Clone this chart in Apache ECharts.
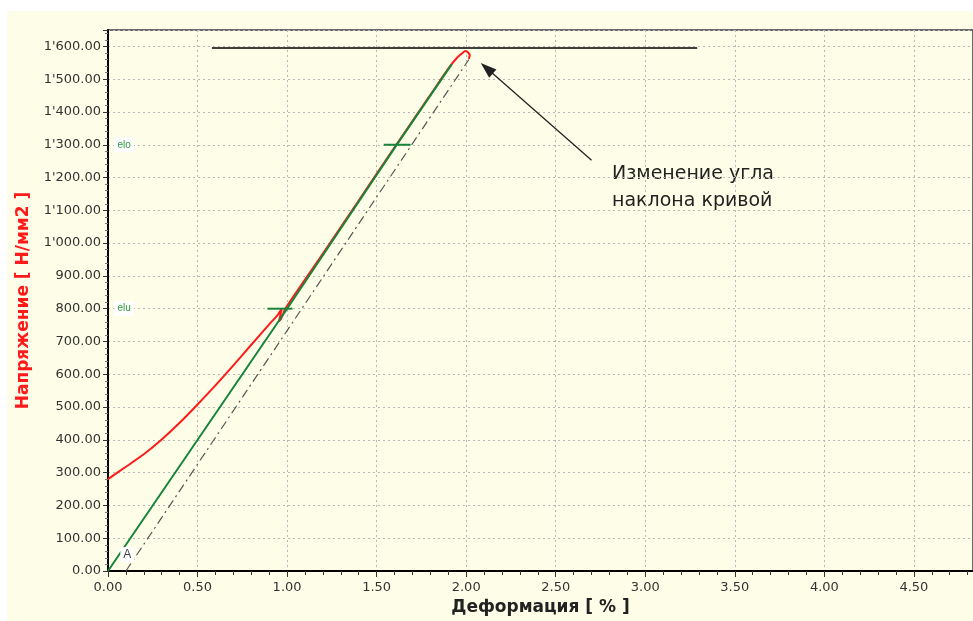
<!DOCTYPE html>
<html>
<head>
<meta charset="utf-8">
<script src="https://cdn.jsdelivr.net/npm/echarts@6/dist/echarts.min.js"></script>
<style>
  html, body { margin:0; padding:0; background:#fff; }
  #chart { position:absolute; left:7px; top:11px; width:966px; height:610px; background:#fefee8; }
</style>
</head>
<body>
<div id="chart"></div>
<script>
// кривая нагрузки (красная)
var redX = [0, 0.1, 0.2, 0.3, 0.4, 0.5, 0.6, 0.7, 0.8, 0.9, 0.95, 0.97, 0.955, 0.965, 0.99, 1.2, 1.4, 1.6, 1.8, 1.9, 1.95, 1.98, 1.995, 2.01, 2.02, 2.015];
var redY = [280, 318, 356, 401, 452, 508, 566, 627, 690, 752, 783, 800, 762, 768, 800, 968, 1130, 1292, 1452, 1532, 1566, 1580, 1586, 1582, 1572, 1562];
// модуль упругости (зелёная)
var greenX = [0, 1.0, 1.61, 1.92];
var greenY = [0, 800, 1298, 1546];
// разгрузка (штрих-пунктир)
var dashX = [0.1, 2.015];
var dashY = [0, 1560];
// отметки elu / elo
var eluX = [0.89, 1.03], eluY = [800, 800];
var eloX = [1.54, 1.69], eloY = [1300, 1300];
// максимум
var maxX = [0.58, 3.29], maxY = [1595, 1595];
// стрелка
var arrowFrom = [2.70, 1253], arrowTo = [2.115, 1533];
var labels = [
  { name: 'elo', value: [0.09, 1300], color: '#2e9a3e', w: 20 },
  { name: 'elu', value: [0.09, 800], color: '#2e9a3e', w: 20 },
  { name: 'A', value: [0.108, 50], color: '#444', w: 14 }
];

function pairs(xs, ys) {
  var r = [];
  for (var i = 0; i < xs.length; i++) r.push([xs[i], ys[i]]);
  return r;
}
function fmtY(v) {
  var s = v.toFixed(2);
  var p = s.split('.');
  var i = p[0];
  if (i.length > 3) i = i.slice(0, i.length - 3) + "'" + i.slice(i.length - 3);
  return i + '.' + p[1];
}

var myChart = echarts.init(document.getElementById('chart'));
var font = 'DejaVu Sans, Liberation Sans, Arial, sans-serif';
var option = {
  animation: false,
  textStyle: { fontFamily: font },
  grid: {
    left: 98, top: 19, right: 0, bottom: 49,
    show: true, borderColor: '#6a6a6a', borderWidth: 2, backgroundColor: 'transparent'
  },
  xAxis: {
    type: 'value', min: 0, max: 4.83, interval: 0.5,
    name: 'Деформация [ % ]', nameLocation: 'middle', nameGap: 28,
    nameTextStyle: { fontSize: 17, fontWeight: 'bold', color: '#222', fontFamily: font },
    axisLine: { lineStyle: { color: '#000', width: 2 } },
    axisTick: { show: true, length: 6, lineStyle: { color: '#333' } },
    minorTick: { show: true, splitNumber: 5, length: 4, lineStyle: { color: '#333' } },
    axisLabel: { color: '#333', fontSize: 13, margin: 10, showMaxLabel: false, fontFamily: font,
      formatter: function (v) { return v.toFixed(2); } },
    splitLine: { show: true, lineStyle: { color: '#b8b8b8', type: [2, 3], width: 1 } }
  },
  yAxis: {
    type: 'value', min: 0, max: 1650, interval: 100,
    name: 'Напряжение [ Н/мм2 ]', nameLocation: 'middle', nameGap: 76,
    nameTextStyle: { fontSize: 17, fontWeight: 'bold', color: '#ff1a1a', fontFamily: font },
    axisLine: { lineStyle: { color: '#000', width: 2 } },
    axisTick: { show: true, length: 5, lineStyle: { color: '#333' } },
    minorTick: { show: true, splitNumber: 5, length: 3, lineStyle: { color: '#777' } },
    axisLabel: { color: '#333', fontSize: 13, margin: 7, showMaxLabel: false, formatter: fmtY, fontFamily: font },
    splitLine: { show: true, lineStyle: { color: '#b8b8b8', type: [2, 3], width: 1 } }
  },
  series: [
    {
      type: 'line', data: pairs(maxX, maxY), symbol: 'none',
      lineStyle: { color: '#000', width: 1.5 }
    },
    {
      type: 'line', data: pairs(dashX, dashY), symbol: 'none',
      lineStyle: { color: '#555', width: 1.2, type: [9, 4, 2, 4] }
    },
    {
      type: 'line', data: pairs(redX, redY), symbol: 'none', smooth: 0.2,
      lineStyle: { color: '#ff1a1a', width: 2 }
    },
    {
      type: 'line', data: pairs(greenX, greenY), symbol: 'none',
      lineStyle: { color: '#17843a', width: 2 }
    },
    {
      type: 'line', data: pairs(eluX, eluY), symbol: 'none',
      lineStyle: { color: '#17843a', width: 2 }
    },
    {
      type: 'line', data: pairs(eloX, eloY), symbol: 'none',
      lineStyle: { color: '#17843a', width: 2 }
    },
    {
      type: 'line', data: [], symbol: 'none',
      markLine: {
        silent: true, symbol: ['none', 'triangle'], symbolSize: [11, 16],
        label: { show: false },
        lineStyle: { color: '#222', width: 1.3, type: 'solid' },
        data: [[{ coord: arrowFrom }, { coord: arrowTo }]]
      }
    },
    {
      type: 'scatter', symbol: 'rect', z: 5,
      itemStyle: { color: '#fff', opacity: 1 },
      emphasis: { disabled: true },
      data: labels.map(function (d) {
        return {
          value: d.value,
          symbolSize: [d.w, 15],
          label: {
            show: true, position: 'inside', formatter: d.name, color: d.color,
            fontSize: d.name === 'A' ? 12 : 10, fontFamily: 'Liberation Sans, Arial, sans-serif'
          }
        };
      })
    }
  ],
  graphic: [
    {
      type: 'text', left: 605, top: 150,
      style: {
        text: 'Изменение угла\nнаклона кривой', font: '19px ' + font,
        fill: '#222', lineHeight: 27
      }
    }
  ]
};
myChart.setOption(option);
</script>
</body>
</html>
